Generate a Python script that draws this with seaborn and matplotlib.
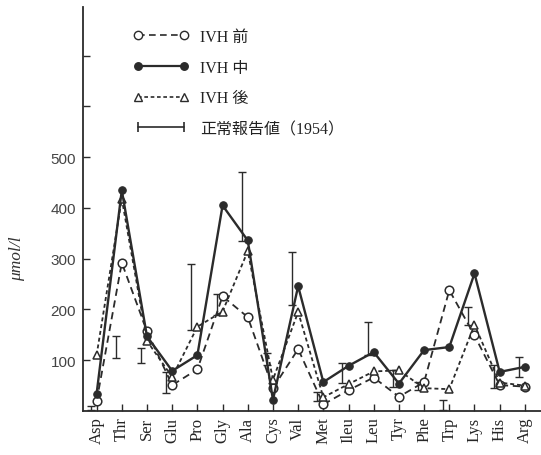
import numpy as np
import pandas as pd
import matplotlib
matplotlib.use("Agg")
import matplotlib.pyplot as plt
from matplotlib.lines import Line2D
import seaborn as sns

# Plasma free amino acids before / during / after IVH, with normal ranges (1954)
amino_acids = ["Asp", "Thr", "Ser", "Glu", "Pro", "Gly", "Ala", "Cys", "Val",
               "Met", "Ileu", "Leu", "Tyr", "Phe", "Trp", "Lys", "His", "Arg"]
ivh_before = [19, 292, 157, 51, 82, 226, 185, 45, 122, 13, 41, 66, 28, 57, 238, 149, 51, 48]
ivh_during = [34, 435, 147, 79, 110, 405, 336, 22, 246, 57, 89, 116, 54, 120, 126, 271, 77, 87]
ivh_after = [110, 418, 138, 67, 166, 196, 315, 62, 195, 27, 53, 78, 80, 45, 43, 170, 56, 50]
normal_low = [2, 105, 95, 35, 160, 190, 335, 90, 208, 20, 55, 110, 48, 42, 2, 170, 45, 67]
normal_high = [10, 148, 125, 76, 290, 230, 470, 115, 313, 38, 95, 175, 80, 58, 21, 205, 90, 107]

y_ticks = [100, 200, 300, 400, 500, 600, 700]
y_tick_labels = ["100", "200", "300", "400", "500", "", ""]
legend_labels = ["IVH 前", "IVH 中", "IVH 後", "正常報告値（1954）"]

sns.set_theme(style="ticks")
plt.rcParams["font.family"] = ["Liberation Serif", "Noto Sans CJK JP"]

ink = "#2b2b2b"
pos = np.arange(len(amino_acids))
df = pd.DataFrame({"pos": pos, "before": ivh_before, "during": ivh_during,
                   "after": ivh_after, "lo": normal_low, "hi": normal_high})

fig = plt.figure(figsize=(5.41, 4.56), dpi=100)
ax = fig.add_axes([83 / 541, 1 - 412 / 456, 1 - 83 / 541, (412 - 8) / 456])

# normal ranges, drawn slightly left of each category
err_x = df["pos"] - 0.24
mid = (df["lo"] + df["hi"]) / 2
half = (df["hi"] - df["lo"]) / 2
ax.errorbar(err_x, mid, yerr=half, fmt="none", ecolor=ink, elinewidth=1.0,
            capsize=3.2, capthick=1.0, zorder=2)

dash_open = (0, (4.0, 2.6))
dash_tri = (0, (2.2, 1.6))

sns.lineplot(data=df, x="pos", y="before", ax=ax, color=ink, linewidth=1.3,
             linestyle=dash_open, marker="o", markersize=6.2,
             markerfacecolor="white", markeredgecolor=ink, markeredgewidth=1.1,
             zorder=3)
sns.lineplot(data=df, x="pos", y="after", ax=ax, color=ink, linewidth=1.3,
             linestyle=dash_tri, marker="^", markersize=6.0,
             markerfacecolor="white", markeredgecolor=ink, markeredgewidth=1.1,
             zorder=4)
sns.lineplot(data=df, x="pos", y="during", ax=ax, color=ink, linewidth=1.7,
             linestyle="-", marker="o", markersize=5.4,
             markerfacecolor=ink, markeredgecolor=ink, zorder=5)

ax.set_xlim(-0.54, 17.64)
ax.set_ylim(0, 796)
ax.set_xticks(pos)
ax.set_xticklabels(amino_acids, rotation=90, fontsize=12,
                   family=["Liberation Serif", "Noto Sans CJK JP"])
ax.set_yticks(y_ticks)
ax.set_yticklabels(y_tick_labels, fontsize=11, family="Liberation Sans",
                   color="#444444")
ax.tick_params(axis="both", direction="in", length=5, width=1.0, color=ink)
ax.tick_params(axis="x", pad=4)
ax.tick_params(axis="y", pad=5)
ax.set_xlabel("")
ax.set_ylabel("μmol/l", fontsize=12.5, style="italic", color="#333333",
              family=["Liberation Serif", "DejaVu Serif"])
ax.yaxis.set_label_coords(-0.127, 0.379)

for side in ("top", "right"):
    ax.spines[side].set_visible(False)
for side in ("left", "bottom"):
    ax.spines[side].set_color(ink)
    ax.spines[side].set_linewidth(1.3)

handles = [
    Line2D([], [], color=ink, linewidth=1.2, linestyle=dash_open, marker="o",
           markersize=6, markerfacecolor="white", markeredgecolor=ink),
    Line2D([], [], color=ink, linewidth=1.6, linestyle="-", marker="o",
           markersize=5.4, markerfacecolor=ink, markeredgecolor=ink),
    Line2D([], [], color=ink, linewidth=1.2, linestyle=dash_tri, marker="^",
           markersize=5.5, markerfacecolor="white", markeredgecolor=ink),
    Line2D([], [], color=ink, linewidth=1.2, linestyle="-", marker="|",
           markersize=7, markeredgewidth=1.2),
]
leg = ax.legend(handles, legend_labels, loc="upper left",
                bbox_to_anchor=((133 - 83) / 458, (412 - 30) / 404),
                frameon=False, numpoints=2, handlelength=3.5,
                handletextpad=0.7, labelspacing=0.92, borderpad=0,
                borderaxespad=0,
                prop={"family": ["Liberation Serif", "Noto Sans CJK JP"],
                      "size": 11.5})
for t in leg.get_texts():
    t.set_color("#222222")

fig.savefig("out.png", dpi=100, facecolor="white")
